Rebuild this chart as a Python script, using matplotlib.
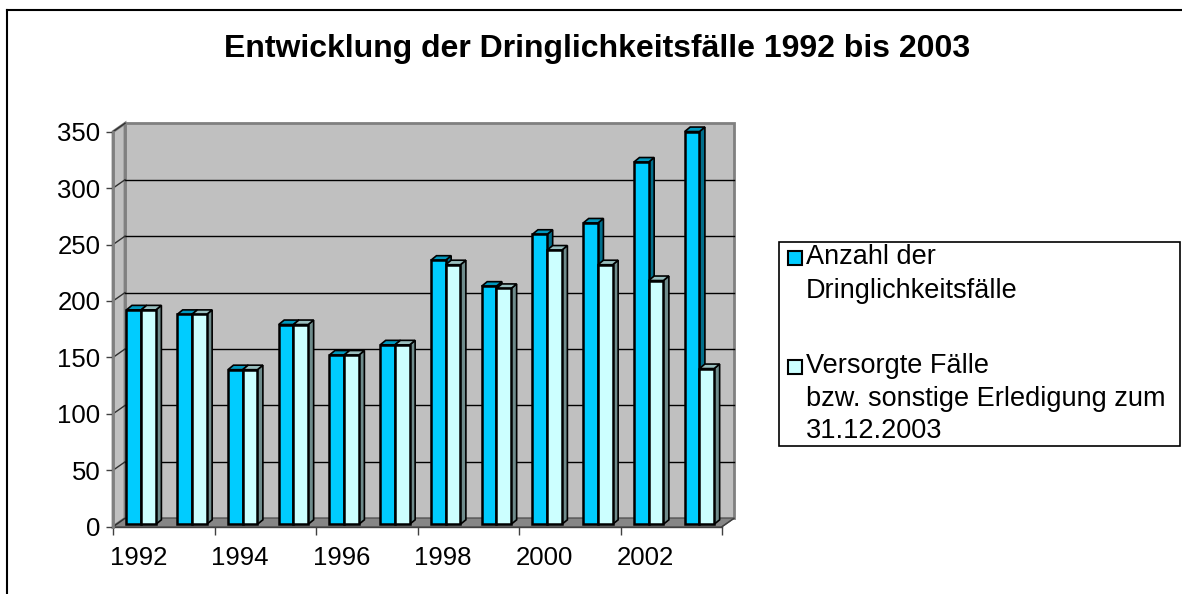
import numpy as np
import matplotlib
matplotlib.use("Agg")
import matplotlib.pyplot as plt
from matplotlib.patches import Polygon, Rectangle
from matplotlib.transforms import offset_copy

plt.rcParams['font.family'] = ['Liberation Sans', 'DejaVu Sans']

# Daten
years = ["1992", "1993", "1994", "1995", "1996", "1997",
         "1998", "1999", "2000", "2001", "2002", "2003"]
anzahl = [190, 186, 137, 177, 150, 159, 234, 211, 257, 267, 321, 348]
versorgt = [190, 186, 137, 177, 150, 159, 230, 209, 243, 230, 216, 138]
yticks = [0, 50, 100, 150, 200, 250, 300, 350]

label_1 = "Anzahl der\nDringlichkeitsfälle"
label_2 = "Versorgte Fälle\nbzw. sonstige Erledigung zum\n31.12.2003"
title = "Entwicklung der Dringlichkeitsfälle 1992 bis 2003"

# Farben
c_dark = "#00ccff"
c_dark_side = "#006f8c"
c_dark_top = "#0099bf"
c_light = "#ccffff"
c_light_side = "#6f8c8c"
c_light_top = "#99bfbf"
c_wall = "#c0c0c0"
c_floor = "#868686"

W, H = 1182, 594
fig = plt.figure(figsize=(W / 100, H / 100), dpi=100)

# Plotbereich (Vorderkante) in Pixeln
x0, x1 = 113, 722
y0, y1 = 526.7, 131.7
ax = fig.add_axes([x0 / W, 1 - y0 / H, (x1 - x0) / W, (y0 - y1) / H])
ax.set_facecolor("none")
n = len(years)
ymax = yticks[-1]
ax.set_xlim(0, n)
ax.set_ylim(0, ymax)

# Tiefe der Wand (in Datenkoordinaten)
px_x = (x1 - x0) / n
px_y = (y0 - y1) / ymax
dx = 12 / px_x
dy = 8.4 / px_y

# Rückwand, Seitenwand, Boden
ax.add_patch(Polygon([(dx, dy), (n + dx, dy), (n + dx, ymax + dy), (dx, ymax + dy)],
                     closed=True, fc=c_wall, ec="#808080", lw=2, clip_on=False, zorder=0))
ax.add_patch(Polygon([(0, 0), (dx, dy), (dx, ymax + dy), (0, ymax)],
                     closed=True, fc=c_wall, ec="#808080", lw=2, clip_on=False, zorder=0))
ax.add_patch(Polygon([(0, 0), (n, 0), (n + dx, dy), (dx, dy)],
                     closed=True, fc=c_floor, ec="#606060", lw=1, clip_on=False, zorder=0.5))

# Gitternetz
for v in yticks[1:-1]:
    ax.plot([dx, n + dx], [v + dy, v + dy], color="black", lw=1, zorder=0.6, clip_on=False)
for v in yticks:
    ax.plot([0, dx], [v, v + dy], color="#303030", lw=1, zorder=0.6, clip_on=False)

# Säulen mit 3D-Effekt
bar_w = 0.29
bdx = 5.5 / px_x
bdy = 4.5 / px_y
tr = offset_copy(ax.transData, fig=fig, x=0, y=2.4, units="dots")


def draw_bar(left, h, front, side, top):
    ax.add_patch(Polygon([(left + bar_w, 0), (left + bar_w + bdx, bdy),
                          (left + bar_w + bdx, h + bdy), (left + bar_w, h)],
                         closed=True, fc=side, ec="black", lw=1.2, transform=tr,
                         clip_on=False, zorder=2))
    ax.add_patch(Polygon([(left, h), (left + bdx, h + bdy),
                          (left + bar_w + bdx, h + bdy), (left + bar_w, h)],
                         closed=True, fc=top, ec="black", lw=1.2, transform=tr,
                         clip_on=False, zorder=2))
    ax.bar(left, h, width=bar_w, align="edge", color=front, edgecolor="black",
           linewidth=1.8, transform=tr, clip_on=False, zorder=2)


for i in range(n):
    draw_bar(i + 0.265, anzahl[i], c_dark, c_dark_side, c_dark_top)
    draw_bar(i + 0.265 + bar_w, versorgt[i], c_light, c_light_side, c_light_top)

# Achsen
for s in ["top", "right"]:
    ax.spines[s].set_visible(False)
ax.spines["left"].set_color("#808080")
ax.spines["left"].set_linewidth(2)
ax.spines["bottom"].set_color("#404040")
ax.spines["bottom"].set_linewidth(1)
ax.spines["left"].set_zorder(3)
ax.plot([n, n + dx], [0, dy], color="#404040", lw=1, clip_on=False, zorder=3)

ax.set_yticks(yticks)
ax.set_yticklabels([str(v) for v in yticks])
ax.tick_params(axis="y", length=5, width=1, color="#404040", pad=4, labelsize=18.5)

ax.set_xticks(np.arange(0, n + 1, 2))
ax.set_xticklabels([])
ax.set_xticks(np.arange(0, n, 2) + 0.5, minor=True)
ax.set_xticklabels(years[::2], minor=True)
ax.tick_params(axis="x", which="major", length=6, width=1, color="#404040")
ax.tick_params(axis="x", which="minor", length=0, pad=14, labelsize=18.5)

# Titel
fig.text(597 / W, 1 - 49 / H, title, ha="center", va="center",
         fontsize=23, fontweight="bold")

# Legende (manuell, Symbol an der ersten Zeile ausgerichtet)
lx0, ly0, lx1, ly1 = 779, 242, 1180, 446
fig.patches.append(Rectangle((lx0 / W, 1 - ly1 / H), (lx1 - lx0) / W, (ly1 - ly0) / H,
                             transform=fig.transFigure, fc="white", ec="black", lw=1.2))
for (ty, lab, col, ls) in [(258, label_1, c_dark, 1.39), (367, label_2, c_light, 1.33)]:
    fig.patches.append(Rectangle((788 / W, 1 - (ty + 7) / H), 14 / W, 14 / H,
                                 transform=fig.transFigure, fc=col, ec="black", lw=1.5))
    fig.text(806 / W, 1 - (ty - 14) / H, lab, ha="left", va="top",
             fontsize=19.5, linespacing=ls)

# Rahmen des Diagramms
fig.add_artist(plt.Line2D([7 / W, 7 / W], [0, 1 - 10 / H], transform=fig.transFigure,
                          color="black", lw=1.5))
fig.add_artist(plt.Line2D([7 / W, 1], [1 - 10 / H, 1 - 10 / H], transform=fig.transFigure,
                          color="black", lw=1.5))

fig.savefig("out.png", dpi=100)
